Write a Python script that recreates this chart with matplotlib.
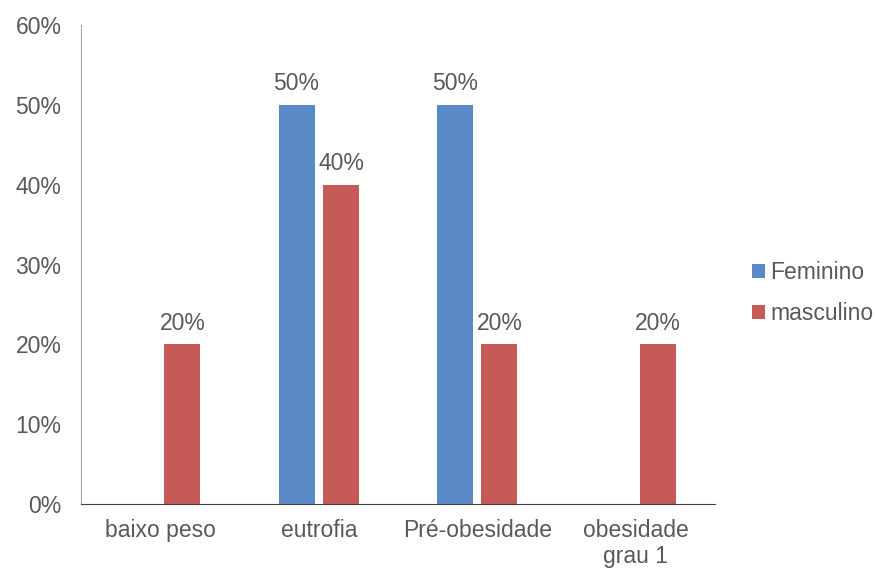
import numpy as np
import matplotlib.pyplot as plt

categories = ["baixo peso", "eutrofia", "Pré-obesidade", "obesidade\ngrau 1"]
feminino = [0, 50, 50, 0]
masculino = [20, 40, 20, 20]

plt.rcParams['font.family'] = ['Liberation Sans', 'DejaVu Sans']
txt = '#595959'
fs = 16.5

fig = plt.figure(figsize=(8.75, 5.69), dpi=100)
ax = fig.add_axes([81/875, 65/569, 634/875, 479/569])

x = np.arange(len(categories))
w = 0.227
off = 0.14
b1 = ax.bar(x - off, feminino, w, color='#5A8AC6', label='Feminino')
b2 = ax.bar(x + off, masculino, w, color='#C55A57', label='masculino')

for bars, vals in ((b1, feminino), (b2, masculino)):
    for b, v in zip(bars, vals):
        if v > 0:
            ax.annotate(f"{v}%", (b.get_x() + b.get_width() / 2, v),
                        xytext=(0, 7), textcoords='offset points',
                        ha='center', va='bottom', fontsize=fs, color=txt)

ax.set_xlim(-0.5, len(categories) - 0.5)
ax.set_ylim(0, 60)
ax.set_yticks(range(0, 61, 10))
ax.set_yticklabels([f"{t}%" for t in range(0, 61, 10)])
ax.set_xticks(x)
ax.set_xticklabels(categories, linespacing=1.15)
ax.tick_params(axis='y', length=0, pad=14, labelsize=fs, labelcolor=txt)
ax.tick_params(axis='x', length=0, pad=11, labelsize=fs, labelcolor=txt)

for s in ('top', 'right'):
    ax.spines[s].set_visible(False)
ax.spines['left'].set_color('#A6A6A6')
ax.spines['bottom'].set_color('#404040')

leg = ax.legend(loc='center left', bbox_to_anchor=(671/634, 0.44), frameon=False,
                fontsize=fs, handlelength=0.55, handleheight=0.55, handletextpad=0.25,
                labelspacing=0.8, borderaxespad=0, borderpad=0)
for t in leg.get_texts():
    t.set_color(txt)

fig.savefig('out.png', dpi=100)
